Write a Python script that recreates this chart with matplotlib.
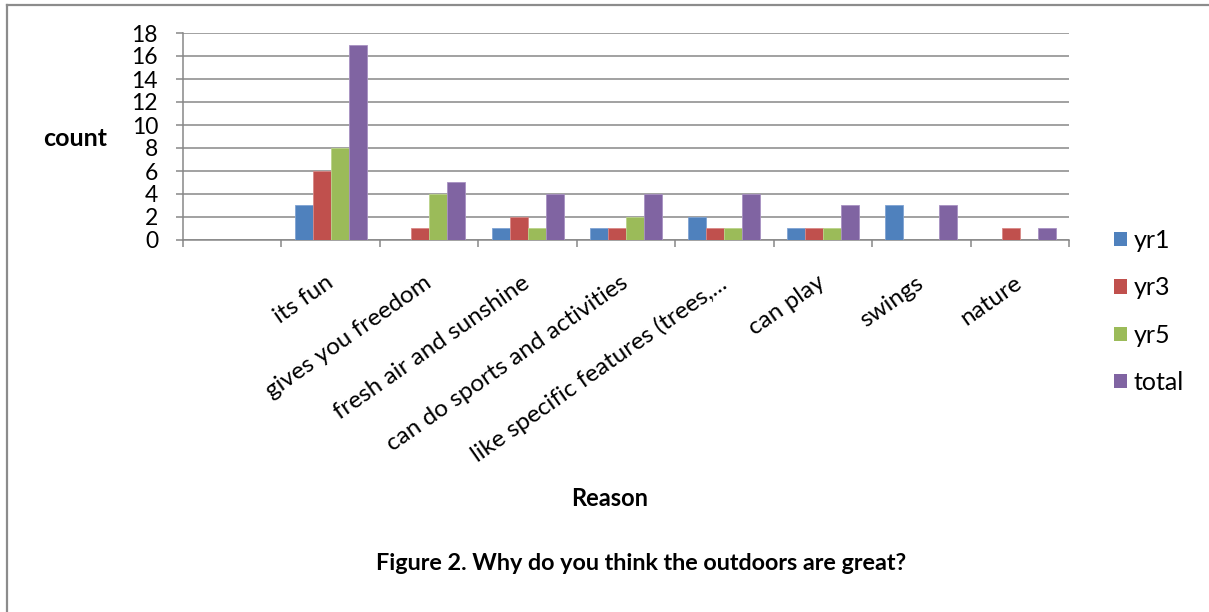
import matplotlib
matplotlib.use("Agg")
import matplotlib.pyplot as plt
import matplotlib.transforms as mtransforms
import numpy as np
from matplotlib.patches import Patch
from matplotlib.lines import Line2D

# Survey responses by year group
categories = ["", "its fun", "gives you freedom", "fresh air and sunshine",
              "can do sports and activities", "like specific features (trees,...",
              "can play", "swings", "nature"]
yr1 = [0, 3, 0, 1, 1, 2, 1, 3, 0]
yr3 = [0, 6, 1, 2, 1, 1, 1, 0, 1]
yr5 = [0, 8, 4, 1, 2, 1, 1, 0, 0]
total = [0, 17, 5, 4, 4, 4, 3, 3, 1]
series_names = ["yr1", "yr3", "yr5", "total"]
series_colors = ["#4F81BD", "#C0504D", "#9BBB59", "#8064A2"]
edge_colors = ["#7FA3D3", "#D88886", "#BBD38A", "#A891C2"]
y_ticks = list(range(0, 19, 2))

FONT = "Lato"
GRID = "#878787"

fig = plt.figure(figsize=(12.09, 6.12), dpi=100)
ax = fig.add_axes([183 / 1209, 1 - 240 / 612, (1069 - 183) / 1209, (240 - 33) / 612])

x = np.arange(len(categories))
w = 0.183
for i, (vals, c, ec) in enumerate(zip([yr1, yr3, yr5, total], series_colors, edge_colors)):
    ax.bar(x + (i - 1.5) * w, vals, width=w, color=c, edgecolor=ec, linewidth=0.6,
           zorder=3, label=series_names[i])

ax.set_xlim(-0.5, len(categories) - 0.5)
ax.set_ylim(0, 18)
ax.set_yticks(y_ticks)
ax.set_yticklabels([str(v) for v in y_ticks], fontfamily=FONT, fontsize=16.5)
ax.yaxis.grid(True, color=GRID, linewidth=1.1, zorder=0)
ax.tick_params(axis="y", length=5, width=1.1, color=GRID, pad=13)

ax.set_xticks(x)
ax.set_xticklabels(categories, rotation=35, ha="right", va="top",
                   rotation_mode="anchor", fontfamily=FONT, fontsize=17.5)
ax.tick_params(axis="x", which="major", length=0, pad=23)
shift = mtransforms.ScaledTranslation(-6 / 100, 0, fig.dpi_scale_trans)
for lbl in ax.get_xticklabels():
    lbl.set_transform(lbl.get_transform() + shift)
ax.set_xticks(np.arange(-0.5, len(categories)), minor=True)
ax.tick_params(axis="x", which="minor", length=5, width=1.1, color=GRID, direction="out")

for side in ["top", "right"]:
    ax.spines[side].set_visible(False)
for side in ["left", "bottom"]:
    ax.spines[side].set_color(GRID)
    ax.spines[side].set_linewidth(1.1)

fig.text(75 / 1209, 1 - 139 / 612, "count", fontfamily=FONT, fontweight="bold",
         fontsize=18, ha="center", va="center")
fig.text(610 / 1209, 1 - 499 / 612, "Reason", fontfamily=FONT, fontweight="bold",
         fontsize=17, ha="center", va="center")
fig.text(641 / 1209, 1 - 563 / 612, "Figure 2. Why do you think the outdoors are great?",
         fontfamily=FONT, fontweight="bold", fontsize=16.8, ha="center", va="center")

handles = [Patch(facecolor=c, edgecolor="none") for c in series_colors]
fig.legend(handles, series_names, loc="upper left",
           bbox_to_anchor=(1104 / 1209, 1 - 219 / 612), frameon=False,
           prop={"family": FONT, "size": 18}, handlelength=0.5, handleheight=0.5,
           handletextpad=0.3, labelspacing=0.97, borderaxespad=0)

# left and top frame of the figure
fig.add_artist(Line2D([6.5 / 1209, 6.5 / 1209], [0, 1 - 5 / 612], color="#8C8C8C",
                      linewidth=1.6, transform=fig.transFigure))
fig.add_artist(Line2D([6.5 / 1209, 1], [1 - 5 / 612, 1 - 5 / 612], color="#8C8C8C",
                      linewidth=1.6, transform=fig.transFigure))

fig.savefig("out.png", dpi=100, facecolor="white")
